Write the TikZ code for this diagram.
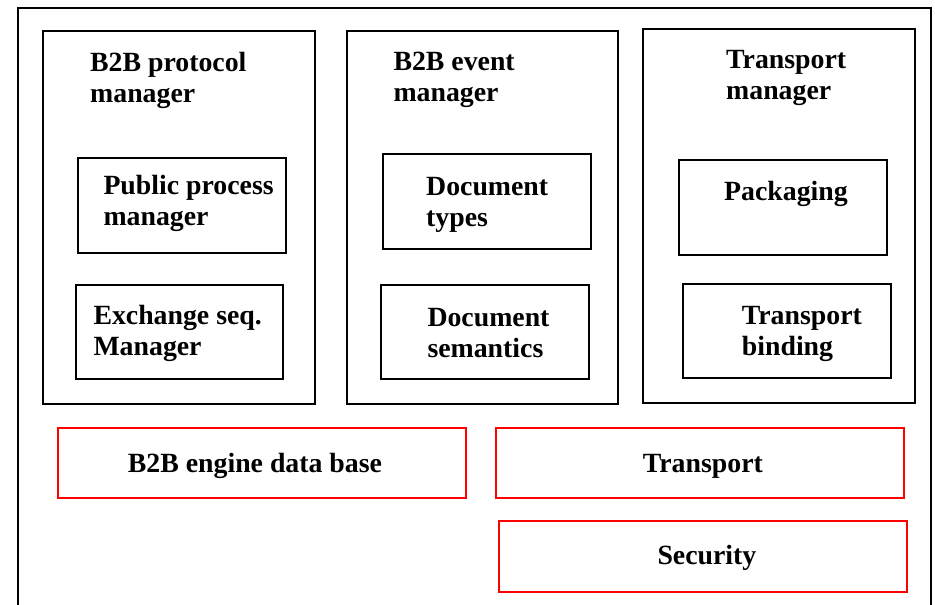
\documentclass[tikz,border=0pt]{standalone}
\usepackage{fontspec}
\setmainfont{Liberation Serif}
\begin{document}
\begin{tikzpicture}[x=1pt,y=-1pt,
  frame/.style n args={2}{draw=black,line width=2pt,inner sep=0pt,outer sep=0pt,
    anchor=north west,minimum width=#1,minimum height=#2},
  redbox/.style n args={2}{frame={#1}{#2},draw=red},
  lbl/.style={font=\bfseries\fontsize{27.8}{31}\selectfont,inner sep=0pt,
    anchor=base west,align=left}]
\useasboundingbox (0,0) rectangle (935,605);
\clip (0,0) rectangle (935,605);

% enclosing frame, open at the bottom edge of the page
\node[frame={913pt}{640pt}] (outer) at (18,8) {};

% three manager columns
\node[frame={272pt}{372.5pt}] (proto) at (43,31) {};
\node[frame={271pt}{372.5pt}] (event) at (347,31) {};
\node[frame={272pt}{374pt}]   (tman)  at (643,29.3) {};

% inner component boxes
\node[frame={208pt}{95pt}]     (pub)   at (78,158.3) {};
\node[frame={207.6pt}{94.3pt}] (exch)  at (75.7,285) {};
\node[frame={208pt}{95pt}]     (dtyp)  at (382.7,154.3) {};
\node[frame={208.3pt}{94.3pt}] (dsem)  at (381,285) {};
\node[frame={207.4pt}{95pt}]   (pack)  at (679.3,160) {};
\node[frame={207.4pt}{93.7pt}] (tbind) at (683.3,284) {};

% shared services
\node[redbox={408.3pt}{70.6pt}] (db)    at (57.7,427.7) {};
\node[redbox={408.3pt}{70.6pt}] (trans) at (495.7,427.7) {};
\node[redbox={408.3pt}{71.3pt}] (sec)   at (499,521) {};

% labels (the base anchor of a two-line label sits on its second line)
\node[lbl] (protoT) at (90,102)      {B2B protocol\\manager};
\node[lbl] (eventT) at (393.3,101)   {B2B event\\manager};
\node[lbl] (tmanT)  at (726,99.5)    {Transport\\manager};
\node[lbl] (pubT)   at (103.3,225.3) {Public process\\manager};
\node[lbl] (exchT)  at (93.3,355)    {Exchange seq.\\Manager};
\node[lbl] (dtypT)  at (426,226.7)   {Document\\types};
\node[lbl] (dsemT)  at (427.3,357.7) {Document\\semantics};
\node[lbl] (packT)  at (724,200)     {Packaging};
\node[lbl] (tbindT) at (741.7,355)   {Transport\\binding};
\node[lbl] (dbT)    at (127.7,472.7) {B2B engine data base};
\node[lbl] (transT) at (642.7,472.7) {Transport};
\node[lbl] (secT)   at (657.3,564)   {Security};
\end{tikzpicture}
\end{document}
